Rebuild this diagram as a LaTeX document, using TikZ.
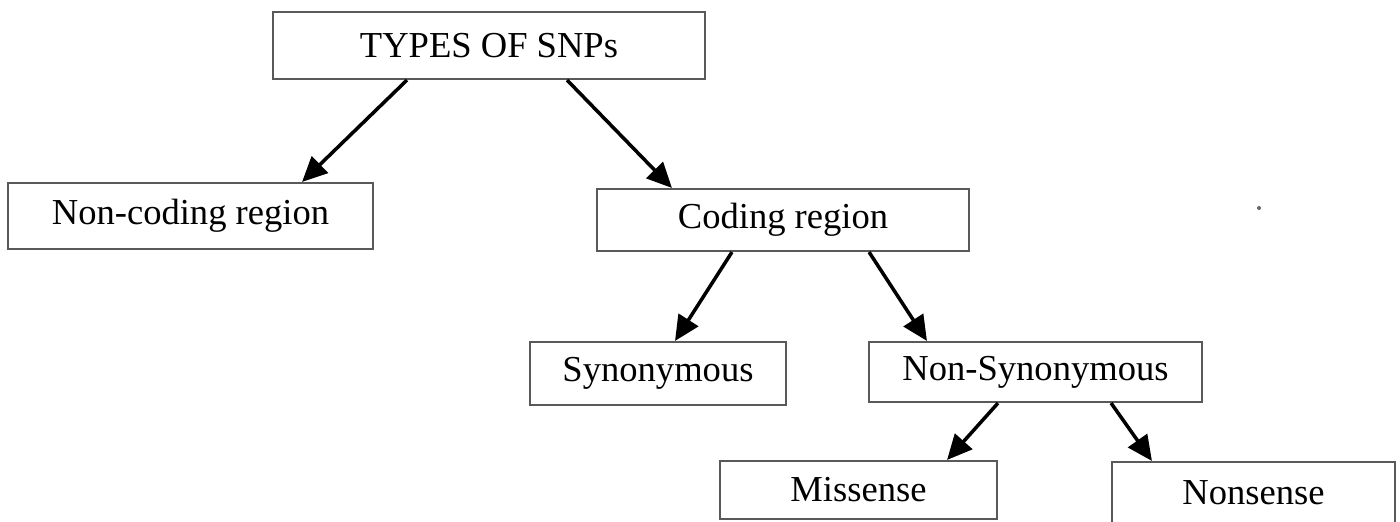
\documentclass[tikz,border=0pt]{standalone}
\usepackage{fontspec}
\setmainfont{Liberation Serif}
\usepackage{tikz}
\usetikzlibrary{arrows.meta,positioning}

\tikzset{
    snpbox/.style={draw=black!65, line width=0.6pt, rectangle, inner sep=0pt,
        font=\fontsize{10.4}{12}\selectfont},
    snparrow/.style={-{Triangle[length=2.5mm,width=2.3mm]}, line width=1pt}
}

\begin{document}
\begin{tikzpicture}[x=0.01cm,y=-0.01cm]
    \useasboundingbox (0,0) rectangle (1400,521);
    \node[snpbox, minimum width=4.32cm, minimum height=0.67cm] (types) at (489,45.5) {TYPES OF SNPs};
    \node[snpbox, minimum width=3.65cm, minimum height=0.66cm] (noncoding) at (190.5,216) {Non-coding region};
    \node[snpbox, minimum width=3.72cm, minimum height=0.62cm] (coding) at (783,220) {Coding region};
    \node[snpbox, minimum width=2.56cm, minimum height=0.63cm] (syn) at (658,373.5) {Synonymous};
    \node[snpbox, minimum width=3.33cm, minimum height=0.60cm] (nonsyn) at (1035.5,372) {Non-Synonymous};
    \node[snpbox, minimum width=2.77cm, minimum height=0.58cm] (missense) at (858.5,490) {Missense};
    \node[snpbox, minimum width=2.83cm, minimum height=0.62cm] (nonsense) at (1253.5,493) {Nonsense};
    \path[snparrow]
        ([xshift=-0.82cm]types.south) edge ([xshift=1.115cm]noncoding.north)
        ([xshift=0.78cm]types.south) edge ([xshift=-1.11cm]coding.north)
        ([xshift=-0.51cm]coding.south) edge ([xshift=0.17cm]syn.north)
        ([xshift=0.86cm]coding.south) edge ([xshift=-1.085cm]nonsyn.north)
        ([xshift=-0.375cm]nonsyn.south) edge ([xshift=0.885cm]missense.north)
        ([xshift=0.755cm]nonsyn.south) edge ([xshift=-1.015cm]nonsense.north);
    % stray mark
    \fill[black!60] (1259,208) circle (2);
\end{tikzpicture}
\end{document}
